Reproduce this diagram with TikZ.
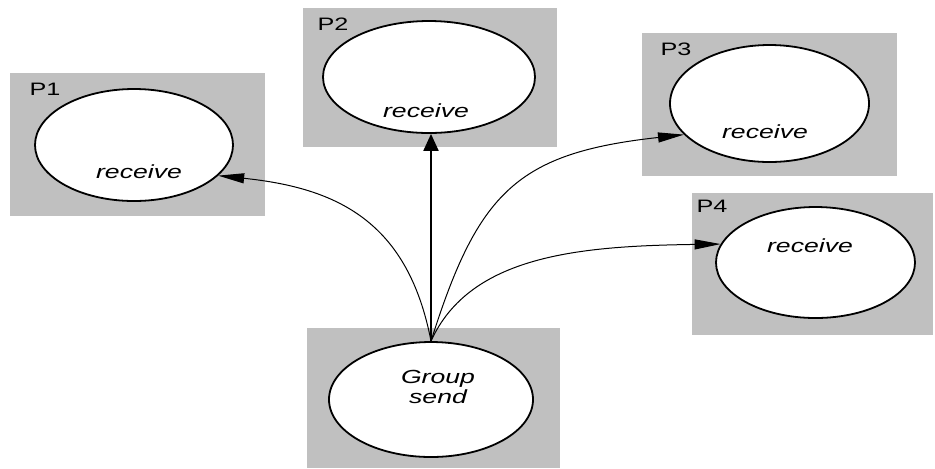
\documentclass[tikz,border=0pt]{standalone}
\usepackage{fontspec}
\newfontfamily\procfont[FakeStretch=1.4]{Liberation Sans}
\usepackage{tikz}
\usetikzlibrary{positioning,shapes.geometric,arrows.meta}
\definecolor{boxgray}{RGB}{192,192,192}
\tikzset{
  procbox/.style = {rectangle, fill=boxgray, draw=none, inner sep=0pt},
  proc/.style    = {ellipse, draw, fill=white, line width=0.9pt, inner sep=0pt},
  plabel/.style  = {anchor=base, inner sep=0pt,
                   font=\procfont\fontsize{9}{10}\selectfont},
  recv/.style    = {anchor=base, inner sep=0pt, align=center,
                   font=\procfont\itshape\fontsize{9.5}{8}\selectfont},
  msg/.style     = {-{Triangle[length=13pt,width=5pt]}, line width=0.5pt},
  msgup/.style   = {-{Triangle[length=8.5pt,width=7.5pt]}, line width=1pt}
}

\begin{document}
\begin{tikzpicture}[x=0.5pt,y=0.5pt]
            \useasboundingbox (0,0) rectangle (935,-468);
            \node[procbox, minimum width=127.5pt, minimum height=71.5pt] (b1) at (137.5,-144.5) {};
            \node[procbox, minimum width=127pt, minimum height=69.5pt]   (b2) at (430,-77.5)    {};
            \node[procbox, minimum width=127.5pt, minimum height=71.5pt] (b3) at (769.5,-104.5) {};
            \node[procbox, minimum width=120.5pt, minimum height=71pt]   (b4) at (812.5,-264)   {};
            \node[procbox, minimum width=126.5pt, minimum height=70pt]   (bg) at (433.5,-398)   {};
            \node[proc, minimum width=99pt, minimum height=56pt]    (p1) at (134,-145)     {};
            \node[proc, minimum width=106pt, minimum height=56pt]   (p2) at (429,-77)      {};
            \node[proc, minimum width=99.5pt, minimum height=58.5pt] (p3) at (769.5,-103.5) {};
            \node[proc, minimum width=99.5pt, minimum height=55.5pt] (p4) at (815.5,-262.5) {};
            \node[proc, minimum width=102pt, minimum height=57.5pt] (gs) at (431,-399.5)   {};
            \node[plabel] (l1) at (45,-95)  {P1};
            \node[plabel] (l2) at (333,-30) {P2};
            \node[plabel] (l3) at (676,-55) {P3};
            \node[plabel] (l4) at (712,-212) {P4};
            \node[recv] (r1) at (139,-178) {receive};
            \node[recv] (r2) at (426,-117) {receive};
            \node[recv] (r3) at (765,-138) {receive};
            \node[recv] (r4) at (810,-252) {receive};
            \node[recv, anchor=center] (gt) at (438,-387) {Group\\send};
            \draw[msg] (gs.north) .. controls (408,-222) and (338,-188) .. (p1.-20);
            \draw[msgup] (gs.north) -- (gs.north |- p2.south);
            \draw[msg] (gs.north) .. controls (478,-192) and (517,-153) .. (p3.200);
            \draw[msg] (gs.north) .. controls (470,-255) and (580,-246) .. (p4.169);
\end{tikzpicture}
\end{document}
